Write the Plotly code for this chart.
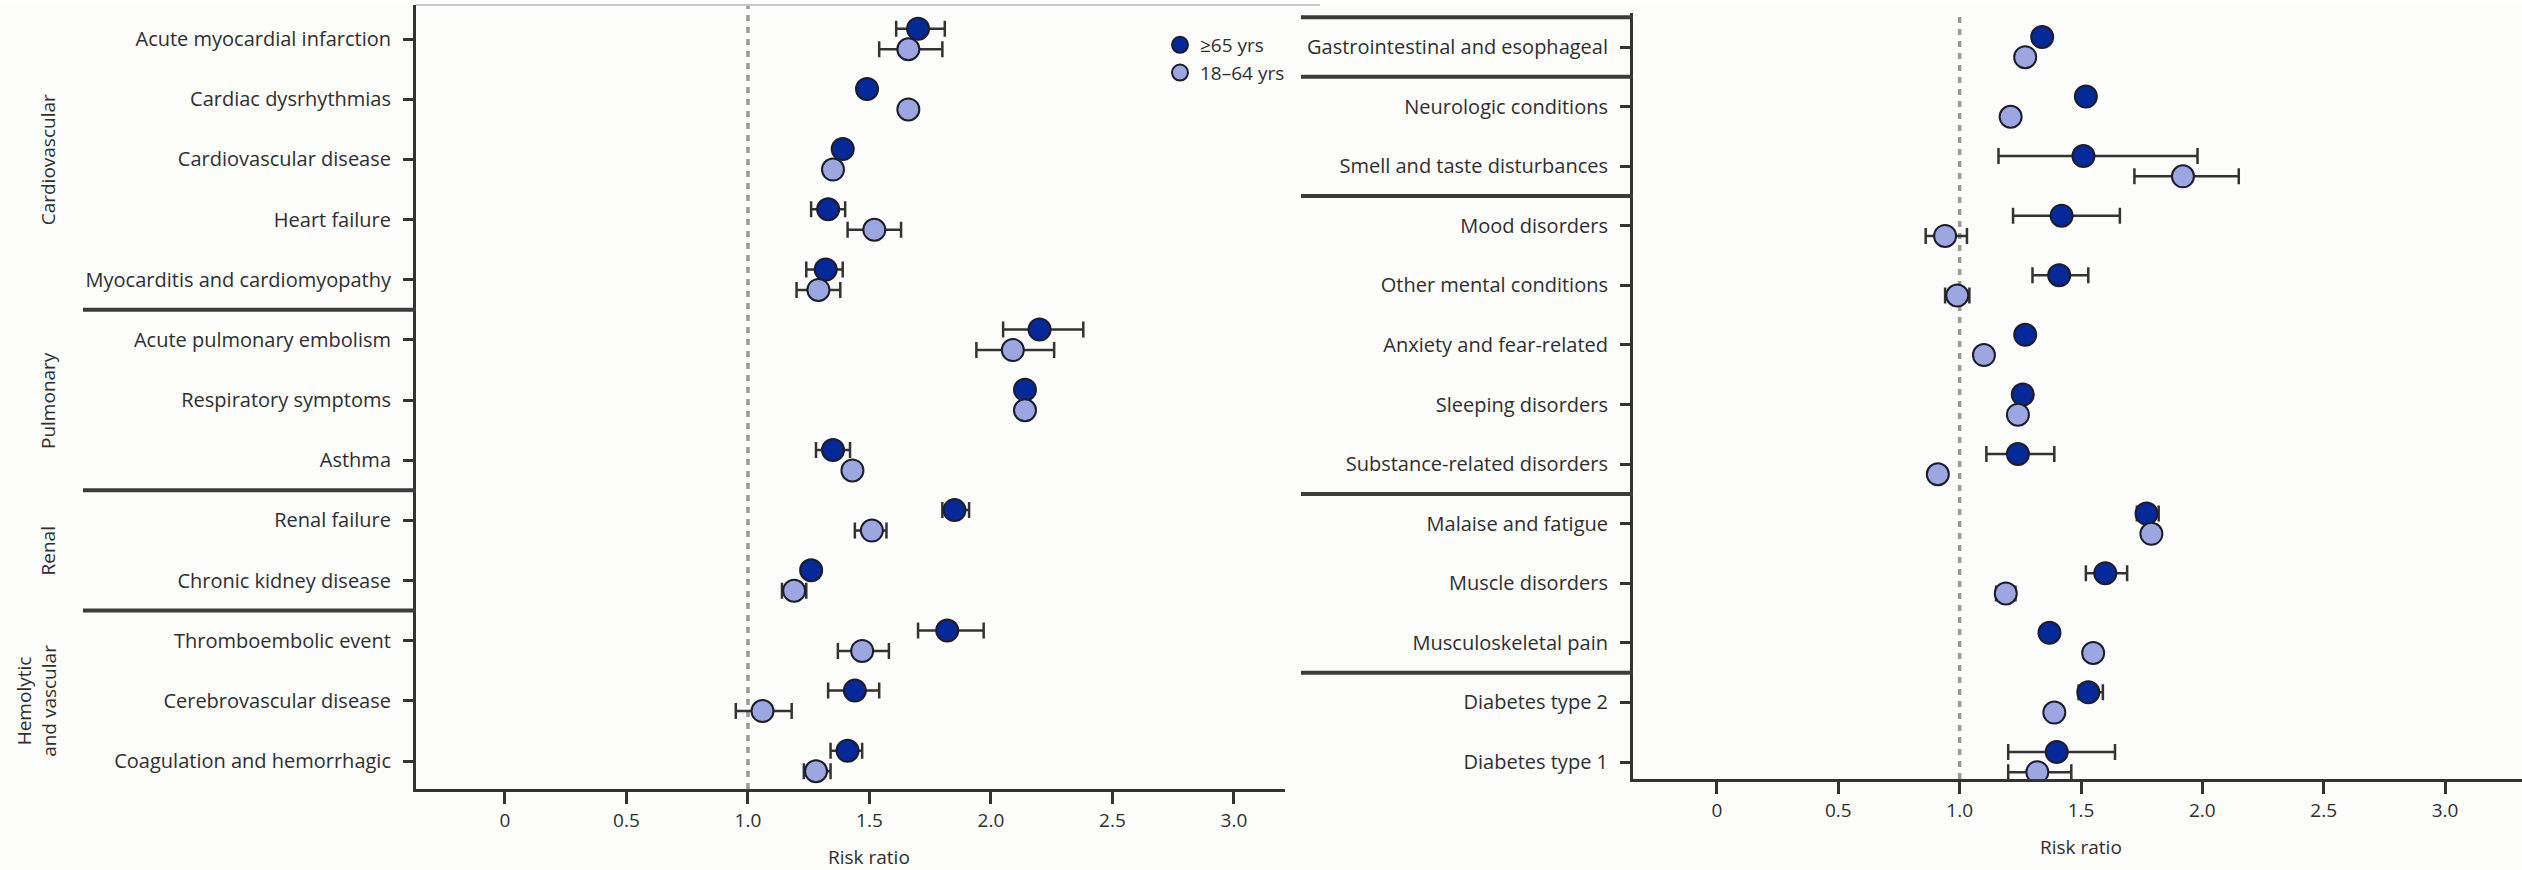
import plotly.graph_objects as go

# ---------------- data ----------------
left_categories = [
    "Acute myocardial infarction", "Cardiac dysrhythmias", "Cardiovascular disease",
    "Heart failure", "Myocarditis and cardiomyopathy", "Acute pulmonary embolism",
    "Respiratory symptoms", "Asthma", "Renal failure", "Chronic kidney disease",
    "Thromboembolic event", "Cerebrovascular disease", "Coagulation and hemorrhagic",
]
left_old = [1.70, 1.49, 1.39, 1.33, 1.32, 2.20, 2.14, 1.35, 1.85, 1.26, 1.82, 1.44, 1.41]
left_old_lo = [1.61, 1.49, 1.36, 1.26, 1.24, 2.05, 2.14, 1.28, 1.80, 1.23, 1.70, 1.33, 1.34]
left_old_hi = [1.81, 1.49, 1.42, 1.40, 1.39, 2.38, 2.14, 1.42, 1.91, 1.29, 1.97, 1.54, 1.47]
left_young = [1.66, 1.66, 1.35, 1.52, 1.29, 2.09, 2.14, 1.43, 1.51, 1.19, 1.47, 1.06, 1.28]
left_young_lo = [1.54, 1.66, 1.32, 1.41, 1.20, 1.94, 2.14, 1.40, 1.44, 1.14, 1.37, 0.95, 1.23]
left_young_hi = [1.80, 1.66, 1.38, 1.63, 1.38, 2.26, 2.14, 1.45, 1.57, 1.24, 1.58, 1.18, 1.34]

right_categories = [
    "Gastrointestinal and esophageal", "Neurologic conditions", "Smell and taste disturbances",
    "Mood disorders", "Other mental conditions", "Anxiety and fear-related",
    "Sleeping disorders", "Substance-related disorders", "Malaise and fatigue",
    "Muscle disorders", "Musculoskeletal pain", "Diabetes type 2", "Diabetes type 1",
]
right_old = [1.34, 1.52, 1.51, 1.42, 1.41, 1.27, 1.26, 1.24, 1.77, 1.60, 1.37, 1.53, 1.40]
right_old_lo = [1.34, 1.52, 1.16, 1.22, 1.30, 1.25, 1.24, 1.11, 1.73, 1.52, 1.37, 1.49, 1.20]
right_old_hi = [1.34, 1.52, 1.98, 1.66, 1.53, 1.29, 1.28, 1.39, 1.82, 1.69, 1.37, 1.59, 1.64]
right_young = [1.27, 1.21, 1.92, 0.94, 0.99, 1.10, 1.24, 0.91, 1.79, 1.19, 1.55, 1.39, 1.32]
right_young_lo = [1.27, 1.21, 1.72, 0.86, 0.94, 1.10, 1.24, 0.89, 1.79, 1.15, 1.55, 1.39, 1.20]
right_young_hi = [1.27, 1.21, 2.15, 1.03, 1.04, 1.10, 1.24, 0.93, 1.79, 1.23, 1.55, 1.39, 1.46]

left_groups = [("Cardiovascular", 0, 4), ("Pulmonary", 5, 7), ("Renal", 8, 9),
               ("Hemolytic<br>and vascular", 10, 12)]
left_separators = [4.5, 7.5, 9.5]
right_separators = [-0.5, 0.5, 2.5, 7.5, 10.5]

x_tickvals = [0, 0.5, 1.0, 1.5, 2.0, 2.5, 3.0]
x_ticktext = ["0", "0.5", "1.0", "1.5", "2.0", "2.5", "3.0"]
reference_value = 1.0
series_names = ["\u226565 yrs", "18\u201364 yrs"]

# ---------------- style / layout ----------------
W, H = 2522, 870
DARK = "#06299a"
LIGHT = "#9ca6e0"
EDGE = "#1d1d2b"
AX = "#333333"
TXT = "#2f2f2f"
FONT = "Open Sans"
OFF = 0.17  # vertical offset of the two series within a row

def px(x):
    return x / W

def py(y):
    return 1 - y / H

# panel geometry (pixels)
L = dict(x0=416, x1=1285, y0=5, y1=789, r0=-0.565, r1=12.465, xr=[-0.366, 3.21])
R = dict(x0=1633, x1=2522, y0=13, y1=779, r0=-0.571, r1=12.285, xr=[-0.346, 3.317])

def row_px(p, r):
    return p["y0"] + (r - p["r0"]) / (p["r1"] - p["r0"]) * (p["y1"] - p["y0"])

fig = go.Figure()

def add_series(vals, lo, hi, color, name, xa, ya, sign, show):
    rows = list(range(len(vals)))
    fig.add_trace(go.Scatter(
        x=vals, y=[r + sign * OFF for r in rows], mode="markers", name=name,
        xaxis=xa, yaxis=ya, showlegend=show, legendgroup=name,
        marker=dict(size=22, color=color, line=dict(color=EDGE, width=2)),
        error_x=dict(type="data", symmetric=False,
                     array=[h - v for h, v in zip(hi, vals)],
                     arrayminus=[v - l for v, l in zip(vals, lo)],
                     color=AX, thickness=2.5, width=8),
        hoverinfo="x+name",
    ))

add_series(left_old, left_old_lo, left_old_hi, DARK, series_names[0], "x", "y", -1, True)
add_series(left_young, left_young_lo, left_young_hi, LIGHT, series_names[1], "x", "y", 1, True)
add_series(right_old, right_old_lo, right_old_hi, DARK, series_names[0], "x2", "y2", -1, False)
add_series(right_young, right_young_lo, right_young_hi, LIGHT, series_names[1], "x2", "y2", 1, False)

xcommon = dict(tickvals=x_tickvals, ticktext=x_ticktext, ticks="outside", ticklen=12,
               tickwidth=2.5, tickcolor=AX, showline=True, linecolor=AX, linewidth=3,
               showgrid=False, zeroline=False, tickfont=dict(family=FONT, size=19, color=TXT),
               fixedrange=True)
ycommon = dict(tickmode="array", ticks="outside", ticklen=10, tickwidth=2.5, tickcolor=AX,
               showline=True, linecolor=AX, linewidth=3, showgrid=False, zeroline=False,
               tickfont=dict(family=FONT, size=20, color=TXT), ticklabelstandoff=8,
               fixedrange=True)

fig.update_layout(
    width=W, height=H, margin=dict(l=0, r=0, t=0, b=0),
    paper_bgcolor="#fcfcfb", plot_bgcolor="#fcfcfb",
    xaxis=dict(domain=[px(L["x0"]), px(L["x1"])], range=L["xr"], anchor="y", **xcommon),
    yaxis=dict(domain=[py(L["y1"]), py(L["y0"])], range=[L["r1"], L["r0"]], anchor="x",
               tickvals=list(range(len(left_categories))), ticktext=left_categories, **ycommon),
    xaxis2=dict(domain=[px(R["x0"]), px(R["x1"])], range=R["xr"], anchor="y2", **xcommon),
    yaxis2=dict(domain=[py(R["y1"]), py(R["y0"])], range=[R["r1"], R["r0"]], anchor="x2",
                tickvals=list(range(len(right_categories))), ticktext=right_categories, **ycommon),
    legend=dict(x=px(1160), y=py(26), xanchor="left", yanchor="top",
                bgcolor="rgba(0,0,0,0)", font=dict(family=FONT, size=19, color=TXT),
                tracegroupgap=0, itemsizing="trace"),
    showlegend=True,
)

shapes = []
# white strip above panels
shapes.append(dict(type="rect", xref="paper", yref="paper", x0=0, x1=1, y0=py(5), y1=1,
                   fillcolor="white", line=dict(width=0), layer="below"))
# thin top border of left panel
shapes.append(dict(type="line", xref="paper", yref="paper", x0=px(L["x0"]), x1=px(1320),
                   y0=py(L["y0"]), y1=py(L["y0"]), line=dict(color="#c8c8c8", width=2)))
# reference lines at 1.0
for xa in ("x", "x2"):
    shapes.append(dict(type="line", xref=xa, yref=("y" if xa == "x" else "y2") + " domain",
                       x0=reference_value, x1=reference_value, y0=0, y1=1,
                       line=dict(color="#999999", width=3.5, dash="6px,6px"), layer="below"))
# group separators
for s in left_separators:
    yy = py(row_px(L, s))
    shapes.append(dict(type="line", xref="paper", yref="paper", x0=px(83), x1=px(L["x0"]),
                       y0=yy, y1=yy, line=dict(color="#3c3c3c", width=4)))
for s in right_separators:
    yy = py(row_px(R, s))
    shapes.append(dict(type="line", xref="paper", yref="paper", x0=px(1301), x1=px(R["x0"]),
                       y0=yy, y1=yy, line=dict(color="#3c3c3c", width=4)))
fig.update_layout(shapes=shapes)

ann = []
for name, a, b in left_groups:
    xc = 37 if "<br>" in name else 48
    ann.append(dict(text=name, xref="paper", yref="paper", x=px(xc), y=py(row_px(L, (a + b) / 2)),
                    textangle=-90, showarrow=False, xanchor="center", yanchor="middle",
                    font=dict(family=FONT, size=19, color=TXT), align="center"))
ann.append(dict(text="Risk ratio", xref="x", yref="paper", x=1.5, y=py(857), showarrow=False,
                xanchor="center", yanchor="middle", font=dict(family=FONT, size=19, color=TXT)))
ann.append(dict(text="Risk ratio", xref="x2", yref="paper", x=1.5, y=py(847), showarrow=False,
                xanchor="center", yanchor="middle", font=dict(family=FONT, size=19, color=TXT)))
fig.update_layout(annotations=ann)

fig.write_html("out.html", config={"displayModeBar": False},
               post_script="document.body.style.margin='0px';document.body.style.overflow='hidden';")
